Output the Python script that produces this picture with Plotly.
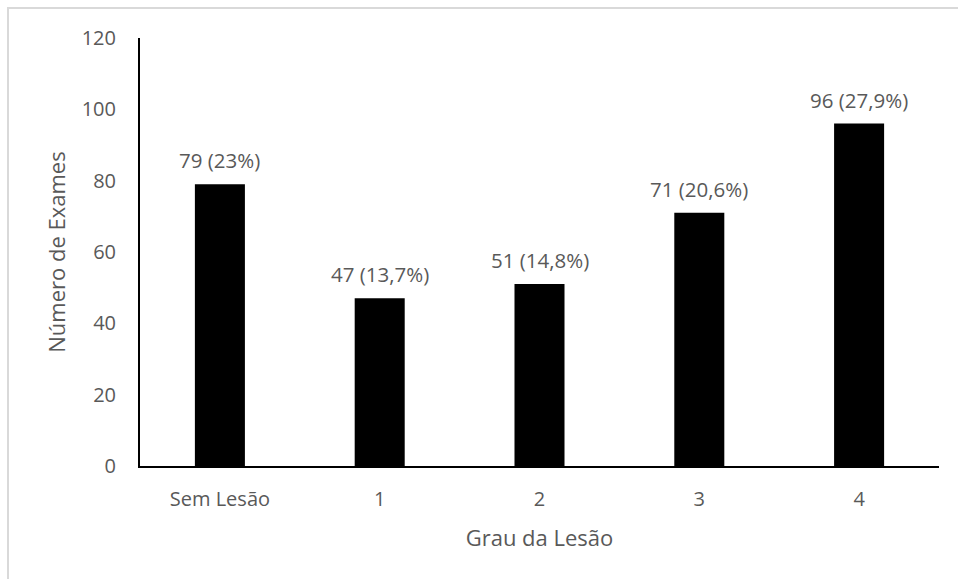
import plotly.graph_objects as go

categories = ["Sem Lesão", "1", "2", "3", "4"]
values = [79, 47, 51, 71, 96]
labels = ["79 (23%)", "47 (13,7%)", "51 (14,8%)", "71 (20,6%)", "96 (27,9%)"]
y_ticks = [0, 20, 40, 60, 80, 100, 120]

W, H = 958, 579
ML, MR, MT, MB = 140, 19, 38, 113
pw, ph = W - ML - MR, H - MT - MB

FONT = "Open Sans"
GREY = "#595959"

fig = go.Figure(go.Bar(x=categories, y=values, marker=dict(color="#000000", line=dict(width=0)),
                       width=0.313, hoverinfo="skip"))

for c, v, t in zip(categories, values, labels):
    fig.add_annotation(x=c, y=v, text=t, showarrow=False, yanchor="bottom", yshift=8,
                       font=dict(family=FONT, size=20.5, color=GREY))

# outer chart border (partly outside the view)
fig.add_shape(type="rect", xref="paper", yref="paper",
              x0=(8 - ML) / pw, x1=(W + 20 - ML) / pw,
              y0=-(H + 20 - MT - ph) / ph, y1=(ph + MT - 8) / ph,
              line=dict(color="#d9d9d9", width=2), fillcolor="rgba(0,0,0,0)", layer="below")

fig.update_layout(
    width=W, height=H,
    margin=dict(l=ML, r=MR, t=MT, b=MB),
    paper_bgcolor="white", plot_bgcolor="white",
    showlegend=False,
    font=dict(family=FONT, size=20, color=GREY),
    xaxis=dict(showline=True, linecolor="#000000", linewidth=2, showgrid=False, zeroline=False,
               ticks="", ticklabelstandoff=14,
               tickfont=dict(family=FONT, size=20, color=GREY),
               title=dict(text="Grau da Lesão", font=dict(family=FONT, size=22, color=GREY), standoff=20)),
    yaxis=dict(range=[0, 120], tickvals=y_ticks, showline=True, linecolor="#000000", linewidth=2,
               showgrid=False, zeroline=False, ticks="", ticklabelstandoff=18,
               tickfont=dict(family=FONT, size=20, color=GREY),
               title=dict(text="Número de Exames", font=dict(family=FONT, size=22, color=GREY), standoff=10)),
)

fig.write_html("out.html")
